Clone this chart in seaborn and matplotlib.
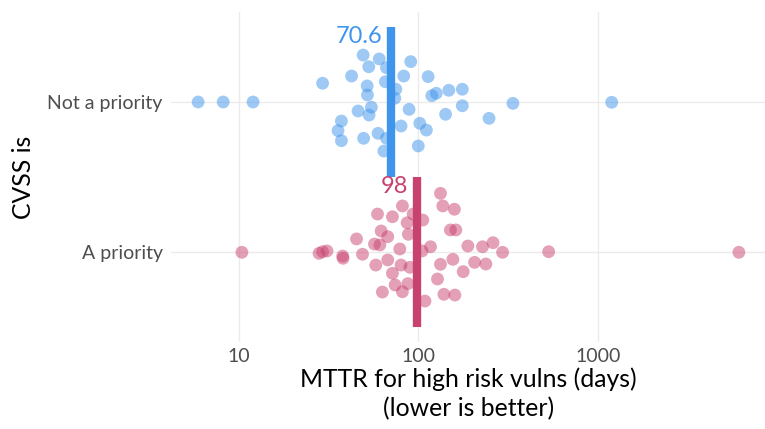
import matplotlib
matplotlib.use("Agg")
import matplotlib.pyplot as plt
import matplotlib.ticker as mticker
import numpy as np
import pandas as pd
import seaborn as sns

# Groups, top to bottom
groups = ["Not a priority", "A priority"]
group_means = [70.6, 98]

# MTTR (days) per organisation, with the vertical jitter used for each point
not_priority_days = [
    5.93, 8.18, 12.0, 29.3, 42.5, 49.3, 60.6, 53.0, 66.5, 90.8, 83.0, 65.6,
    113.5, 51.9, 52.1, 75.0, 74.0, 119, 126, 148, 176, 337, 1197, 54.8, 46.2,
    53.2, 88.9, 176, 142, 37.3, 35.7, 37.3, 49.6, 59.7, 66.5, 64.3, 80.2,
    102, 111, 100, 248,
]
not_priority_jitter = [
    0.00, 0.00, 0.00, -0.125, -0.173, -0.313, -0.287, -0.235, -0.229, -0.269,
    -0.173, -0.135, -0.169, -0.107, -0.047, -0.085, -0.025, -0.042, -0.058,
    -0.078, -0.085, 0.009, 0.002, 0.035, 0.060, 0.087, 0.049, 0.025, 0.082,
    0.127, 0.191, 0.258, 0.242, 0.209, 0.242, 0.327, 0.160, 0.142, 0.187,
    0.293, 0.109,
]
priority_days = [
    10.4, 28.0, 29.3, 31.0, 37.9, 38.1, 45.3, 48.9, 59.3, 71.8, 81.6, 93.6,
    106, 86.7, 62.1, 67.6, 88.1, 57.0, 61.1, 78.9, 105, 117, 58.0, 67.6, 80.2,
    89.8, 71.8, 74.3, 87.5, 63.1, 81.6, 109, 133, 137, 159, 151, 162, 189,
    228, 261, 295, 533, 133, 156, 206, 238, 178, 128, 139, 160, 6120,
]
priority_jitter = [
    0.002, 0.009, -0.002, -0.007, 0.027, 0.042, -0.087, 0.015, -0.253, -0.235,
    -0.307, -0.253, -0.213, -0.195, -0.140, -0.102, -0.118, -0.053, -0.047,
    -0.020, -0.007, -0.035, 0.087, 0.053, 0.087, 0.102, 0.142, 0.220, 0.211,
    0.267, 0.265, 0.327, -0.391, -0.307, -0.285, -0.147, -0.147, -0.040,
    -0.035, -0.062, 0.002, -0.002, 0.082, 0.049, 0.069, 0.080, 0.131, 0.180,
    0.282, 0.287, 0.002,
]

x_ticks = [10, 100, 1000]
x_tick_labels = ["10", "100", "1000"]

palette = {"Not a priority": "#3f95ec", "A priority": "#c8426f"}

df = pd.concat([
    pd.DataFrame({"group": groups[0], "days": not_priority_days,
                  "jitter": not_priority_jitter}),
    pd.DataFrame({"group": groups[1], "days": priority_days,
                  "jitter": priority_jitter}),
], ignore_index=True)
df["row"] = df["group"].map({g: i for i, g in enumerate(groups)})
df["y"] = df["row"] + df["jitter"]

sns.set_theme(style="white")
plt.rcParams["font.family"] = ["Lato", "DejaVu Sans"]

fig = plt.figure(figsize=(7.65, 4.29), dpi=100)
ax = fig.add_axes([171 / 765, 1 - 342 / 429, 595 / 765, 330 / 429])

ax.set_xscale("log")
sns.scatterplot(data=df, x="days", y="y", hue="group", palette=palette,
                alpha=0.5, s=85, linewidth=0, legend=False, ax=ax, zorder=2)

# Mean bars with value labels
for i, (g, m) in enumerate(zip(groups, group_means)):
    ax.vlines(m, i - 0.5, i + 0.5, color=palette[g], linewidth=6, zorder=3)
    ax.annotate(f"{m:g}", xy=(m, i - 0.5), xytext=(-6, 1),
                textcoords="offset points", ha="right", va="top",
                color=palette[g], fontsize=17, zorder=4)

ax.set_xlim(10 ** 0.622, 10 ** 3.938)
ax.set_ylim(1.6, -0.6)
ax.set_xticks(x_ticks)
ax.set_xticklabels(x_tick_labels)
ax.xaxis.set_minor_locator(mticker.NullLocator())
ax.set_yticks(range(len(groups)))
ax.set_yticklabels(groups)

ax.grid(True, color="#ebebeb", linewidth=1.0)
ax.set_axisbelow(True)
for sp in ax.spines.values():
    sp.set_visible(False)
ax.tick_params(axis="both", length=0, labelsize=14, labelcolor="#4d4d4d")
ax.tick_params(axis="y", pad=6)
ax.tick_params(axis="x", pad=4)

ax.set_xlabel("MTTR for high risk vulns (days)\n(lower is better)",
              fontsize=17.8, color="black", linespacing=1.3, labelpad=2)
ax.set_ylabel("CVSS is", fontsize=17.8, color="black", labelpad=9)

fig.savefig("out.png", dpi=100)
